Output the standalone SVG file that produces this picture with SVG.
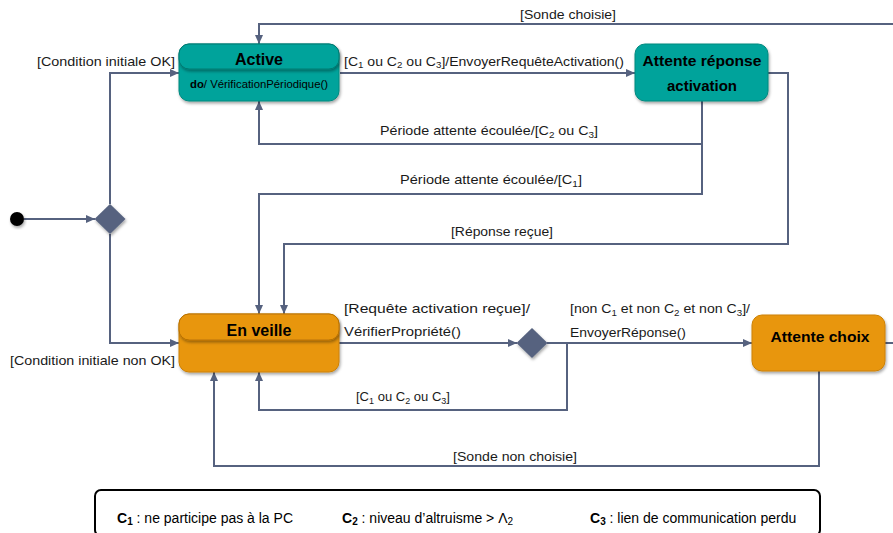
<svg xmlns="http://www.w3.org/2000/svg" width="893" height="533" viewBox="0 0 893 533">
<style>
.t{font-family:"Liberation Sans",Arial,sans-serif;font-size:13px;fill:#1a1a1a}
.b{font-family:"Liberation Sans",Arial,sans-serif;font-size:15px;font-weight:bold;fill:#000}
.s{font-size:9px}
.c{fill:none;stroke:#56627F;stroke-width:2}
.teal{fill:#00A39B;stroke:#00897F;stroke-width:1}
.tealh{fill:#00A39B;stroke:#007A72;stroke-width:1}
.org{fill:#E8960B;stroke:#CC8006;stroke-width:1}
.orgh{fill:#E8960B;stroke:#B97204;stroke-width:1}
.dia{fill:#56627F}
.lg{font-family:"Liberation Sans",Arial,sans-serif;font-size:14px;fill:#000}
.lg .s{font-size:10px}
</style>
<defs>
<marker id="ar" markerUnits="userSpaceOnUse" markerWidth="9" markerHeight="8" refX="9" refY="4" orient="auto">
<path d="M0,0 L9,4 L0,8 z" fill="#56627F"/>
</marker>
<filter id="sh" x="-10%" y="-10%" width="125%" height="135%">
<feDropShadow dx="1" dy="2" stdDeviation="1.5" flood-color="#000" flood-opacity="0.35"/>
</filter>
</defs>
<rect width="893" height="533" fill="#fff"/>

<g id="connectors">
<path class="c" d="M24,219 H95" marker-end="url(#ar)"/>
<path class="c" d="M110,204 V73 H179" marker-end="url(#ar)"/>
<path class="c" d="M110,234 V343 H179" marker-end="url(#ar)"/>
<path class="c" d="M340,73 H635" marker-end="url(#ar)"/>
<path class="c" d="M893,24 H259 V44" marker-end="url(#ar)"/>
<path class="c" d="M702,101 V144 H259 V101" marker-end="url(#ar)"/>
<path class="c" d="M702,144 V194 H259 V314" marker-end="url(#ar)"/>
<path class="c" d="M768,73 H788 V244 H284 V314" marker-end="url(#ar)"/>
<path class="c" d="M339,343 H517" marker-end="url(#ar)"/>
<path class="c" d="M547,343 H752" marker-end="url(#ar)"/>
<path class="c" d="M567,343 V410 H259 V372" marker-end="url(#ar)"/>
<path class="c" d="M819,371 V466 H214 V372" marker-end="url(#ar)"/>
<path class="c" d="M885,343 H893"/>

<text class="t" x="520" y="19" textLength="96" lengthAdjust="spacingAndGlyphs">[Sonde choisie]</text>
<text class="t" x="37" y="66" textLength="138" lengthAdjust="spacingAndGlyphs">[Condition initiale OK]</text>
<text class="t" x="344" y="66" textLength="280" lengthAdjust="spacingAndGlyphs">[C<tspan class="s" dy="2">1</tspan><tspan dy="-2"> ou C</tspan><tspan class="s" dy="2">2</tspan><tspan dy="-2"> ou C</tspan><tspan class="s" dy="2">3</tspan><tspan dy="-2">]/EnvoyerRequêteActivation()</tspan></text>
<text class="t" x="380" y="135" textLength="218" lengthAdjust="spacingAndGlyphs">Période attente écoulée/[C<tspan class="s" dy="3">2</tspan><tspan dy="-3"> ou C</tspan><tspan class="s" dy="3">3</tspan><tspan dy="-3">]</tspan></text>
<text class="t" x="400" y="184" textLength="182" lengthAdjust="spacingAndGlyphs">Période attente écoulée/[C<tspan class="s" dy="3">1</tspan><tspan dy="-3">]</tspan></text>
<text class="t" x="451" y="236" textLength="102" lengthAdjust="spacingAndGlyphs">[Réponse reçue]</text>
<text class="t" x="10" y="365" textLength="165" lengthAdjust="spacingAndGlyphs">[Condition initiale non OK]</text>
<text class="t" x="344" y="313" textLength="186" lengthAdjust="spacingAndGlyphs">[Requête activation reçue]/</text>
<text class="t" x="344" y="336" textLength="117" lengthAdjust="spacingAndGlyphs">VérifierPropriété()</text>
<text class="t" x="570" y="313" textLength="180" lengthAdjust="spacingAndGlyphs">[non C<tspan class="s" dy="3">1</tspan><tspan dy="-3"> et non C</tspan><tspan class="s" dy="3">2</tspan><tspan dy="-3"> et non C</tspan><tspan class="s" dy="3">3</tspan><tspan dy="-3">]/</tspan></text>
<text class="t" x="570" y="337" textLength="116" lengthAdjust="spacingAndGlyphs">EnvoyerRéponse()</text>
<text class="t" x="356" y="401" textLength="94" lengthAdjust="spacingAndGlyphs">[C<tspan class="s" dy="3">1</tspan><tspan dy="-3"> ou C</tspan><tspan class="s" dy="3">2</tspan><tspan dy="-3"> ou C</tspan><tspan class="s" dy="3">3</tspan><tspan dy="-3">]</tspan></text>
<text class="t" x="453" y="461" textLength="124" lengthAdjust="spacingAndGlyphs">[Sonde non choisie]</text>
</g>

<g id="initial">
<circle cx="17" cy="219" r="7" fill="#000" filter="url(#sh)"/>
</g>
<g id="decision1">
<path class="dia" d="M110,204 L125.5,219 L110,234 L94.5,219 z" filter="url(#sh)"/>
</g>
<g id="decision2">
<path class="dia" d="M532,328 L547.5,343 L532,358 L516.5,343 z" filter="url(#sh)"/>
</g>

<g id="active">
<rect class="teal" x="179" y="44" width="160" height="57" rx="10" filter="url(#sh)"/>
<rect class="tealh" x="179" y="44" width="160" height="25" rx="10" filter="url(#sh)"/>
<text class="b" x="259" y="65" text-anchor="middle" style="font-size:16px">Active</text>
<text x="259" y="88" text-anchor="middle" textLength="138" lengthAdjust="spacingAndGlyphs" style="font-family:'Liberation Sans',Arial,sans-serif;font-size:11px;fill:#000"><tspan font-weight="bold">do</tspan>/ VérificationPériodique()</text>
</g>

<g id="attente-reponse">
<rect class="teal" x="635" y="44" width="133" height="57" rx="10" filter="url(#sh)"/>
<text class="b" x="702" y="66" text-anchor="middle" textLength="119" lengthAdjust="spacingAndGlyphs">Attente réponse</text>
<text class="b" x="702" y="91" text-anchor="middle">activation</text>
</g>

<g id="en-veille">
<rect class="org" x="179" y="314" width="160" height="58" rx="10" filter="url(#sh)"/>
<rect class="orgh" x="179" y="314" width="160" height="26" rx="10" filter="url(#sh)"/>
<text class="b" x="259" y="336" text-anchor="middle" style="font-size:16px">En veille</text>
</g>

<g id="attente-choix">
<rect class="org" x="752" y="315" width="133" height="56" rx="10" filter="url(#sh)"/>
<text class="b" x="820" y="342" text-anchor="middle" textLength="99" lengthAdjust="spacingAndGlyphs">Attente choix</text>
</g>

<g id="legend">
<rect x="95" y="490" width="725" height="46" rx="6" fill="#fff" stroke="#000" stroke-width="2"/>
<text class="lg" x="117" y="523"><tspan font-weight="bold">C</tspan><tspan font-weight="bold" class="s" dy="2">1</tspan><tspan dy="-2"> : ne participe pas à la PC</tspan></text>
<text class="lg" x="342" y="523"><tspan font-weight="bold">C</tspan><tspan font-weight="bold" class="s" dy="2">2</tspan><tspan dy="-2"> : niveau d’altruisme &gt; Λ</tspan><tspan class="s" dy="2">2</tspan></text>
<text class="lg" x="590" y="523"><tspan font-weight="bold">C</tspan><tspan font-weight="bold" class="s" dy="2">3</tspan><tspan dy="-2"> : lien de communication perdu</tspan></text>
</g>
</svg>
